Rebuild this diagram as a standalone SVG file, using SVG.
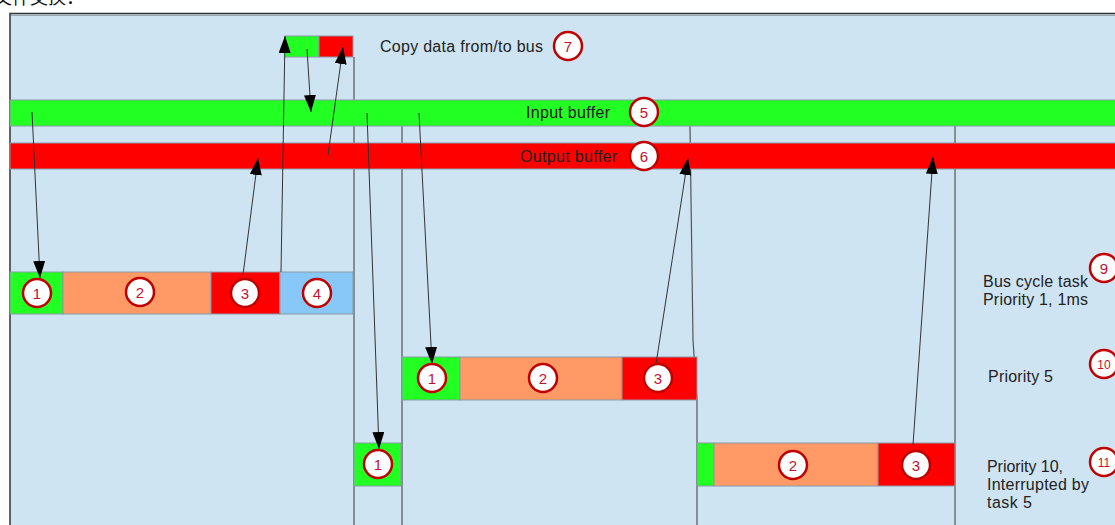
<svg xmlns="http://www.w3.org/2000/svg" width="1115" height="525" viewBox="0 0 1115 525">
<style>
.lbl{font-family:"Liberation Sans",Arial,sans-serif;font-size:16px;fill:#222}
.num{font-family:"Liberation Sans",Arial,sans-serif;font-size:15px;fill:#c8102e;text-anchor:middle}
.num2{font-family:"Liberation Sans",Arial,sans-serif;font-size:12px;fill:#c8102e;text-anchor:middle}
.circ{fill:#fff;stroke:#c00000;stroke-width:2.5}
.cell{stroke:#8a9aa6;stroke-width:1}
.g{fill:#22ff22}.r{fill:#ff0000}.o{fill:#ff9966}.b{fill:#88c8f8}
.vl{stroke:#555;stroke-width:1.2;fill:none}
.ar{stroke:#333;stroke-width:1;fill:none;marker-end:url(#ah)}
</style>
<defs>
<marker id="ah" viewBox="0 0 17 12" refX="17" refY="6" markerWidth="17" markerHeight="12" markerUnits="userSpaceOnUse" orient="auto">
<path d="M0,0 L17,6 L0,12 z" fill="#000"/>
</marker>
</defs>
<rect width="1115" height="525" fill="#fff"/>
<text x="-6" y="4" font-family="'Noto Sans CJK SC',sans-serif" font-size="18" fill="#111">文件交换：</text>
<rect x="10" y="13.5" width="1110" height="520" fill="#cfe4f2" stroke="#333" stroke-width="1.5"/>
<line x1="11" y1="15.5" x2="1115" y2="15.5" stroke="#9aa8b2" stroke-width="1"/>

<g id="vlines">
<line class="vl" x1="354" y1="57" x2="354" y2="525"/>
<line class="vl" x1="402" y1="126" x2="402" y2="525"/>
<polyline class="vl" points="690,126 693,340 697,400 697,525"/>
<line class="vl" x1="955" y1="126" x2="955" y2="525"/>
</g>

<g id="input-buffer">
<rect class="cell g" x="10" y="100" width="1110" height="26"/>
<text class="lbl" x="526" y="118" textLength="84">Input buffer</text>
</g>
<g id="output-buffer">
<rect class="cell r" x="10" y="143" width="1110" height="26"/>
<text class="lbl" x="520" y="162" textLength="97">Output buffer</text>
</g>
<g id="copy-box">
<rect class="cell g" x="285" y="36" width="34" height="21"/>
<rect class="cell r" x="319" y="36" width="34" height="21"/>
<text class="lbl" x="380" y="52" textLength="163">Copy data from/to bus</text>
</g>

<g id="row1">
<rect class="cell g" x="10" y="272" width="53" height="42"/>
<rect class="cell o" x="63" y="272" width="148" height="42"/>
<rect class="cell r" x="211" y="272" width="69" height="42"/>
<rect class="cell b" x="280" y="272" width="73" height="42"/>
</g>
<g id="row2">
<rect class="cell g" x="402" y="357" width="58" height="43"/>
<rect class="cell o" x="460" y="357" width="162" height="43"/>
<rect class="cell r" x="622" y="357" width="75" height="43"/>
</g>
<g id="row3">
<rect class="cell g" x="354" y="443" width="47" height="43"/>
<rect class="cell g" x="697" y="443" width="17" height="43"/>
<rect class="cell o" x="714" y="443" width="164" height="43"/>
<rect class="cell r" x="878" y="443" width="77" height="43"/>
</g>

<g id="connectors">
<line class="ar" x1="32" y1="112" x2="40" y2="278"/>
<line class="ar" x1="243" y1="275" x2="258" y2="158"/>
<line class="ar" x1="281" y1="272" x2="285" y2="36"/>
<line class="ar" x1="307" y1="49" x2="311" y2="112"/>
<line class="ar" x1="328" y1="155" x2="343" y2="47"/>
<line class="ar" x1="367" y1="113" x2="379" y2="449"/>
<line class="ar" x1="419" y1="113" x2="432" y2="364"/>
<line class="ar" x1="656" y1="364" x2="688" y2="158"/>
<line class="ar" x1="913" y1="445" x2="933" y2="157"/>
</g>

<g id="badges">
<circle class="circ" cx="37" cy="293" r="14"/><text class="num" x="37" y="298.5">1</text>
<circle class="circ" cx="140" cy="292" r="14"/><text class="num" x="140" y="297.5">2</text>
<circle class="circ" cx="245" cy="293" r="14"/><text class="num" x="245" y="298.5">3</text>
<circle class="circ" cx="317" cy="293" r="14"/><text class="num" x="317" y="298.5">4</text>
<circle class="circ" cx="432" cy="378" r="14"/><text class="num" x="432" y="383.5">1</text>
<circle class="circ" cx="543" cy="378" r="14"/><text class="num" x="543" y="383.5">2</text>
<circle class="circ" cx="658" cy="378" r="14"/><text class="num" x="658" y="383.5">3</text>
<circle class="circ" cx="378" cy="464" r="14"/><text class="num" x="378" y="469.5">1</text>
<circle class="circ" cx="793" cy="465" r="14"/><text class="num" x="793" y="470.5">2</text>
<circle class="circ" cx="916" cy="465" r="14"/><text class="num" x="916" y="470.5">3</text>
<circle class="circ" cx="644" cy="112" r="14"/><text class="num" x="644" y="117.5">5</text>
<circle class="circ" cx="644" cy="156" r="14"/><text class="num" x="644" y="161.5">6</text>
<circle class="circ" cx="568" cy="46" r="14"/><text class="num" x="568" y="51.5">7</text>
<circle class="circ" cx="1104" cy="268" r="14"/><text class="num" x="1104" y="273.5">9</text>
<circle class="circ" cx="1104" cy="364" r="14"/><text class="num2" x="1104" y="368.5">10</text>
<circle class="circ" cx="1104" cy="462" r="14"/><text class="num2" x="1104" y="466.5">11</text>
</g>

<g id="task-labels">
<text class="lbl" x="983" y="287" textLength="105">Bus cycle task</text>
<text class="lbl" x="983" y="305" textLength="105">Priority 1, 1ms</text>
<text class="lbl" x="988" y="382" textLength="65">Priority 5</text>
<text class="lbl" x="987" y="472" textLength="76">Priority 10,</text>
<text class="lbl" x="987" y="490" textLength="102">Interrupted by</text>
<text class="lbl" x="987" y="508" textLength="45">task 5</text>
</g>
</svg>
